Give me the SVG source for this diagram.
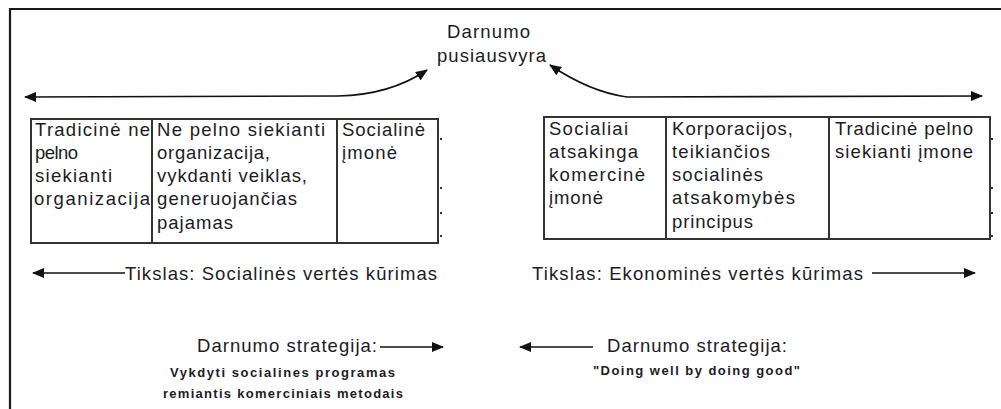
<svg xmlns="http://www.w3.org/2000/svg" width="1001" height="409" viewBox="0 0 1001 409">
<style>
.t{font-family:"Liberation Sans",Arial,sans-serif;font-size:18.5px;fill:#1c1c24}
.s{font-family:"Liberation Sans",Arial,sans-serif;font-size:13px;fill:#1c1c24;font-weight:bold}
.box{fill:#fff;stroke:#333;stroke-width:2}
.div{stroke:#333;stroke-width:2}
.c{fill:none;stroke:#111;stroke-width:1.6}
.tick{fill:#333}
</style>
<defs>
<marker id="ah" markerWidth="12" markerHeight="10" refX="11" refY="5" orient="auto-start-reverse" markerUnits="userSpaceOnUse">
<path d="M0,0 L12,5 L0,10 Z" fill="#111"/>
</marker>
</defs>
<rect width="1001" height="409" fill="#fff"/>
<path d="M10,409 L10,9 L1001,9" fill="none" stroke="#1a1a1a" stroke-width="2.2"/>

<g id="top">
<text class="t" x="447" y="38" textLength="83">Darnumo</text>
<text class="t" x="437" y="62" textLength="109">pusiausvyra</text>
</g>

<g id="left-table">
<rect class="box" x="31" y="119" width="407" height="124"/>
<line class="div" x1="152" y1="119" x2="152" y2="243"/>
<line class="div" x1="337" y1="119" x2="337" y2="243"/>
<text class="t" x="35" y="136" textLength="115">Tradicinė ne</text>
<text class="t" x="35" y="159" textLength="43">pelno</text>
<text class="t" x="35" y="182" textLength="77">siekianti</text>
<text class="t" x="34" y="205" textLength="116">organizacija</text>
<text class="t" x="157" y="136" textLength="168">Ne pelno siekianti</text>
<text class="t" x="157" y="159" textLength="113">organizacija,</text>
<text class="t" x="157" y="182" textLength="150">vykdanti veiklas,</text>
<text class="t" x="157" y="205" textLength="140">generuojančias</text>
<text class="t" x="157" y="229" textLength="76">pajamas</text>
<text class="t" x="342" y="136" textLength="83">Socialinė</text>
<text class="t" x="342" y="159" textLength="55">įmonė</text>
<rect class="tick" x="440" y="138" width="2" height="2"/>
<rect class="tick" x="440" y="187" width="2" height="2"/>
<rect class="tick" x="440" y="212" width="2" height="2"/>
<rect class="tick" x="440" y="235" width="2" height="2"/>
</g>

<g id="right-table">
<rect class="box" x="544" y="117" width="446" height="122"/>
<line class="div" x1="666" y1="117" x2="666" y2="239"/>
<line class="div" x1="829" y1="117" x2="829" y2="239"/>
<text class="t" x="549" y="135" textLength="79">Socialiai</text>
<text class="t" x="549" y="158" textLength="89">atsakinga</text>
<text class="t" x="549" y="181" textLength="96">komercinė</text>
<text class="t" x="549" y="204" textLength="54">įmonė</text>
<text class="t" x="672" y="135" textLength="121">Korporacijos,</text>
<text class="t" x="672" y="158" textLength="98">teikiančios</text>
<text class="t" x="672" y="181" textLength="91">socialinės</text>
<text class="t" x="672" y="204" textLength="123">atsakomybės</text>
<text class="t" x="672" y="228" textLength="81">principus</text>
<text class="t" x="835" y="135" textLength="138">Tradicinė pelno</text>
<text class="t" x="835" y="158" textLength="138">siekianti įmone</text>
<rect class="tick" x="991" y="138" width="2" height="2"/>
<rect class="tick" x="991" y="187" width="2" height="2"/>
<rect class="tick" x="991" y="212" width="2" height="2"/>
<rect class="tick" x="991" y="235" width="2" height="2"/>
</g>

<g id="goal-left">
<text class="t" x="125" y="280" textLength="312">Tikslas: Socialinės vertės kūrimas</text>
</g>
<g id="goal-right">
<text class="t" x="532" y="280" textLength="331">Tikslas: Ekonominės vertės kūrimas</text>
</g>

<g id="strategy-left">
<text class="t" x="197" y="352" textLength="180">Darnumo strategija:</text>
<text class="s" x="170" y="377" textLength="225">Vykdyti socialines programas</text>
<text class="s" x="163" y="398" textLength="240">remiantis komerciniais metodais</text>
</g>
<g id="strategy-right">
<text class="t" x="607" y="352" textLength="180">Darnumo strategija:</text>
<text class="s" x="593" y="375" textLength="207">"Doing well by doing good"</text>
</g>

<g id="connectors">
<path class="c" d="M427,70 Q390,95 338,96 L25,97" marker-start="url(#ah)" marker-end="url(#ah)"/>
<path class="c" d="M550,65 Q590,92 627,97 L982,96" marker-start="url(#ah)" marker-end="url(#ah)"/>
<path class="c" d="M125,273 L33,273" marker-end="url(#ah)"/>
<path class="c" d="M872,273 L975,273" marker-end="url(#ah)"/>
<path class="c" d="M380,347 L443,347" marker-end="url(#ah)"/>
<path class="c" d="M593,347 L520,347" marker-end="url(#ah)"/>
</g>
</svg>
